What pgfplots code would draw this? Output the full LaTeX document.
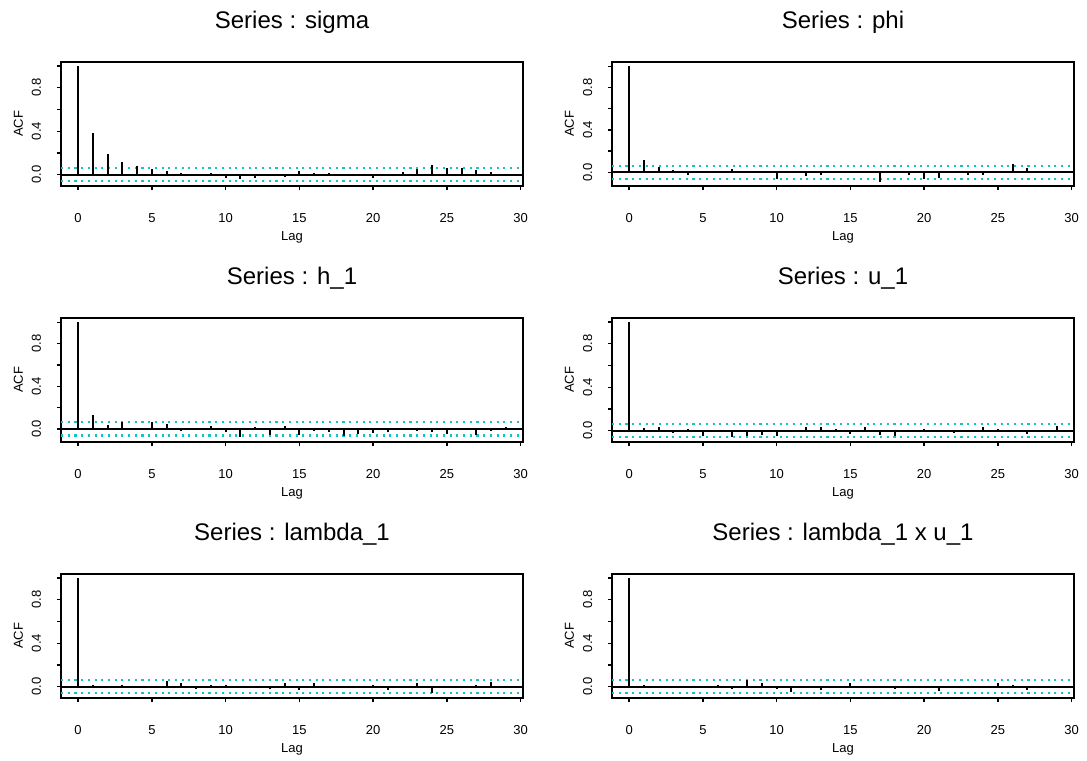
\documentclass[border=0pt]{standalone}
\usepackage{fontspec}
\setmainfont{Liberation Sans}
\usepackage{pgfplots}
\pgfplotsset{compat=1.18}
\definecolor{confc}{RGB}{20,195,195}
\pgfplotsset{acf/.style={
  width=462bp, height=124.3bp, scale only axis,
  xmin=-1.16, xmax=30.16,
  xtick={0,5,10,15,20,25,30},
  ytick={0,0.2,0.4,0.6,0.8,1.0},
  yticklabels={0.0,,0.4,,0.8,},
  tick align=outside, xtick pos=bottom, ytick pos=left,
  major tick length=4bp,
  every tick/.style={black, line width=1.3bp},
  axis line style={line width=1.9bp},
  tick label style={font=\fontsize{13bp}{15bp}\selectfont},
  /pgf/number format/assume math mode=true,
  yticklabel style={xshift=-16bp, rotate=90, anchor=base},
  xticklabel style={anchor=north, yshift=-20bp},
  xlabel=Lag, ylabel=ACF,
  label style={font=\fontsize{13bp}{15bp}\selectfont},
  xlabel style={at={(axis description cs:0.5,-0.4368)}, anchor=base},
  ylabel style={at={(axis description cs:-0.0823,0.5)}, anchor=base},
  every axis title shift=0pt,
  title style={at={(axis description cs:0.5,1.2655)}, anchor=base, font=\fontsize{24bp}{28bp}\selectfont},
  clip=false,
}}
\newcommand{\refl}{%
  \addplot[confc, line width=2.1bp, dash pattern=on 2.1bp off 4.6bp] coordinates {(-1.16,0.062) (30.16,0.062)};
  \addplot[confc, line width=2.1bp, dash pattern=on 2.1bp off 4.6bp] coordinates {(-1.16,-0.062) (30.16,-0.062)};
  \addplot[black, line width=1.9bp] coordinates {(-1.16,0) (30.16,0)};
}
\tikzset{acfbar/.style={ycomb, black, line width=1.9bp, mark=none}}
\begin{document}
\begin{tikzpicture}
\useasboundingbox (0,0) rectangle (1087bp,-761bp);
% sigma
\begin{axis}[acf, at={(61bp,-61.7bp)}, anchor=north west, ymin=-0.105, ymax=1.04, title={Series : sigma}]
\refl
\addplot[acfbar] table {
0 1.0
1 0.385
2 0.194
3 0.117
4 0.083
5 0.052
6 0.030
7 0.018
8 0.010
9 0.018
10 -0.034
11 -0.040
12 -0.030
13 -0.012
14 -0.018
15 0.030
16 0.018
17 0.018
18 -0.012
19 -0.012
20 -0.030
21 0.010
22 0.025
23 0.055
24 0.092
25 0.058
26 0.060
27 0.043
28 0.025
29 -0.012
};
\end{axis}
% phi
\begin{axis}[acf, at={(612bp,-61.7bp)}, anchor=north west, ymin=-0.13, ymax=1.045, title={Series : phi}]
\refl
\addplot[acfbar] table {
0 1.0
1 0.118
2 0.045
3 0.025
4 -0.025
5 0.003
6 0.004
7 0.029
8 0.003
9 0.008
10 -0.064
11 0.002
12 -0.040
13 -0.025
14 0.005
15 0.006
16 0.004
17 -0.095
18 0.002
19 -0.030
20 -0.060
21 -0.054
22 0.004
23 -0.025
24 -0.030
25 0.003
26 0.080
27 0.038
28 0.002
29 0.005
};
\end{axis}
% h_1
\begin{axis}[acf, at={(61bp,-317.7bp)}, anchor=north west, ymin=-0.123, ymax=1.043, title={Series : h\_1}]
\refl
\addplot[acfbar] table {
0 1.0
1 0.13
2 0.037
3 0.063
4 0.005
5 0.069
6 0.047
7 -0.019
8 0.003
9 0.025
10 -0.031
11 -0.080
12 0.019
13 -0.053
14 0.028
15 -0.053
16 -0.022
17 -0.025
18 -0.062
19 -0.044
20 -0.037
21 -0.028
22 0.002
23 -0.019
24 -0.028
25 -0.050
26 0.012
27 -0.053
28 -0.019
29 0.019
};
\end{axis}
% u_1
\begin{axis}[acf, at={(612bp,-317.7bp)}, anchor=north west, ymin=-0.105, ymax=1.04, title={Series : u\_1}]
\refl
\addplot[acfbar] table {
0 1.0
1 0.028
2 0.031
3 -0.019
4 0.012
5 -0.046
6 0.002
7 -0.056
8 -0.050
9 -0.037
10 -0.046
11 0.002
12 0.031
13 0.031
14 0.015
15 -0.031
16 0.034
17 -0.037
18 -0.052
19 -0.015
20 0.015
21 -0.003
22 -0.019
23 -0.015
24 0.034
25 0.012
26 -0.009
27 -0.034
28 0.002
29 0.043
};
\end{axis}
% lambda_1
\begin{axis}[acf, at={(61bp,-573.7bp)}, anchor=north west, ymin=-0.105, ymax=1.04, title={Series : lambda\_1}]
\refl
\addplot[acfbar] table {
0 1.0
1 0.018
2 -0.012
3 0.012
4 -0.006
5 -0.015
6 0.052
7 0.031
8 -0.025
9 0.018
10 0.012
11 0.002
12 0.002
13 -0.018
14 0.034
15 -0.028
16 0.037
17 0.002
18 0.002
19 -0.012
20 0.012
21 -0.028
22 0.002
23 0.037
24 -0.062
25 -0.012
26 -0.012
27 0.018
28 0.040
29 -0.015
};
\end{axis}
% lambda_1 x u_1
\begin{axis}[acf, at={(612bp,-573.7bp)}, anchor=north west, ymin=-0.105, ymax=1.04, title={Series : lambda\_1 x u\_1}]
\refl
\addplot[acfbar] table {
0 1.0
1 0.015
2 -0.012
3 -0.012
4 0.002
5 0.002
6 0.015
7 -0.025
8 0.062
9 0.037
10 -0.018
11 -0.052
12 0.002
13 -0.034
14 0.002
15 0.037
16 0.002
17 0.002
18 -0.018
19 -0.012
20 0.002
21 -0.040
22 -0.012
23 -0.012
24 -0.012
25 0.031
26 0.015
27 -0.034
28 0.002
29 0.002
};
\end{axis}
\end{tikzpicture}
\end{document}
